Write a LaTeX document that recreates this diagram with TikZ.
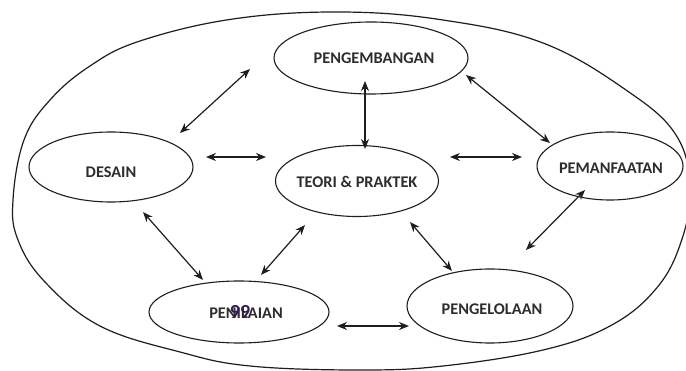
\documentclass[tikz,border=0pt]{standalone}
\usepackage{fontspec}
\setmainfont{Carlito}
\usetikzlibrary{shapes.geometric,arrows.meta}
\definecolor{ink}{RGB}{30,30,30}
\definecolor{lettering}{RGB}{45,45,45}
\definecolor{pagenum}{RGB}{50,30,85}
\tikzset{
  blob/.style={draw=ink, line width=1.1pt, ellipse, inner sep=0pt},
  caption/.style={text=lettering, font=\bfseries\fontsize{16.3}{20}\selectfont, inner sep=0pt},
  link/.style={draw=ink, line width=1.2pt, {Stealth[length=10pt,width=8pt]}-{Stealth[length=10pt,width=8pt]}},
  rim/.style={draw=ink, line width=1.2pt}
}
\begin{document}
\begin{tikzpicture}[x=1pt,y=-1pt]
\useasboundingbox[fill=white] (0,0) rectangle (686,371);

% enclosing boundary
\draw[rim] plot[smooth cycle, tension=0.65] coordinates {
  (13,200) (24,140) (50,100) (90,66) (140,41) (233,19) (340,12)
  (443,20) (543,43) (626,90) (676,135) (690,190) (680,245) (655,290)
  (610,326) (543,350) (443,366) (360,370) (250,366) (180,352)
  (100,326) (45,282) (18,240)};

% the six domains
\node[blob, minimum width=194pt, minimum height=72pt] (peng) at (371,58) {};
\node[caption] (pengT) at (374,58) {PENGEMBANGAN};

\node[blob, minimum width=164pt, minimum height=70pt] (desain) at (111,167) {};
\node[caption] (desainT) at (111,172) {DESAIN};

\node[blob, minimum width=163pt, minimum height=71pt] (teori) at (357,181) {};
\node[caption] (teoriT) at (357,182) {TEORI \& PRAKTEK};

\node[blob, minimum width=146pt, minimum height=68pt] (manfaat) at (610,166) {};
\node[caption] (manfaatT) at (611,168) {PEMANFAATAN};

\node[blob, minimum width=180pt, minimum height=62pt] (nilai) at (239,312) {};
\node[caption] (nilaiT) at (246,313) {PENILAIAN};
% page number printed across the word
\coordinate (pgx) at (240,0);
\node[text=pagenum, font=\bfseries\fontsize{20}{22}\selectfont, inner sep=0pt, anchor=base] (pgno) at (nilaiT.base -| pgx) {99};

\node[blob, minimum width=166pt, minimum height=74pt] (kelola) at (490,306) {};
\node[caption] (kelolaT) at (492,309) {PENGELOLAAN};

% arrow end points
\coordinate (a1) at (180,133); \coordinate (b1) at (250,69);
\coordinate (a2) at (206,157); \coordinate (b2) at (266,157);
\coordinate (a3) at (365,81);  \coordinate (b3) at (365,149);
\coordinate (a4) at (466,75);  \coordinate (b4) at (550,143);
\coordinate (a5) at (450,157); \coordinate (b5) at (522,157);
\coordinate (a6) at (143,212); \coordinate (b6) at (203,280);
\coordinate (a7) at (305,225); \coordinate (b7) at (261,275);
\coordinate (a8) at (410,222); \coordinate (b8) at (452,271);
\coordinate (a9) at (585,190); \coordinate (b9) at (526,250);
\coordinate (a10) at (337,326); \coordinate (b10) at (409,326);

% two-way relations
\draw[link] (a1) -- (b1);
\draw[link] (a2) -- (b2);
\draw[link] (a3) -- (b3);
\draw[link] (a4) -- (b4);
\draw[link] (a5) -- (b5);
\draw[link] (a6) -- (b6);
\draw[link] (a7) -- (b7);
\draw[link] (a8) -- (b8);
\draw[link] (a9) -- (b9);
\draw[link] (a10) -- (b10);
\end{tikzpicture}
\end{document}
